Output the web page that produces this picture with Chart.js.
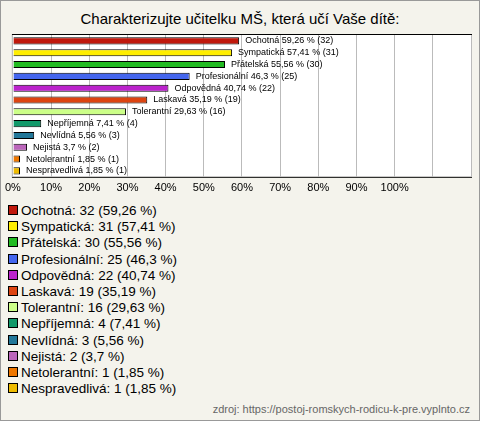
<!DOCTYPE html>
<html>
<head>
<meta charset="utf-8">
<script src="https://cdn.jsdelivr.net/npm/chart.js@4"></script>
<style>
    body { margin: 0; background: #fff; font-family: Arial, "Liberation Sans", sans-serif; }
    #box { position: absolute; left: 0; top: 0; width: 478px; height: 419px; background: #f4f3ec; border: 1px solid #999; }
    #title { position: absolute; top: 10px; left: 0; width: 480px; text-align: center; font-size: 15px; color: #000; }
    #wrap { position: absolute; left: 0; top: 0; width: 480px; height: 200px; }
    #legend { position: absolute; left: 8px; top: 203px; font-size: 13.5px; color: #000; }
    #legend div { height: 16.2px; line-height: 16px; white-space: nowrap; }
    #legend span { display: inline-block; width: 8px; height: 8px; border: 1px solid #000; margin-right: 3px; vertical-align: 0px; }
    #foot { position: absolute; right: 10px; top: 403px; font-size: 11px; color: #666; }
</style>
</head>
<body>
<div id="box"></div>
<div id="title">Charakterizujte učitelku MŠ, která učí Vaše dítě:</div>
<div id="wrap"><canvas id="chart"></canvas></div>
<div id="legend"></div>
<div id="foot">zdroj: https://postoj-romskych-rodicu-k-pre.vyplnto.cz</div>
<script>
// data
const categories = ["Ochotná", "Sympatická", "Přátelská", "Profesionální", "Odpovědná", "Laskavá", "Tolerantní", "Nepříjemná", "Nevlídná", "Nejistá", "Netolerantní", "Nespravedlivá"];
const counts = [32, 31, 30, 25, 22, 19, 16, 4, 3, 2, 1, 1];
const percents = [59.26, 57.41, 55.56, 46.3, 40.74, 35.19, 29.63, 7.41, 5.56, 3.7, 1.85, 1.85];
const colors = ["#c0180c", "#ffee00", "#22bb22", "#4466ee", "#bb22cc", "#dd4411", "#ccff88", "#11996a", "#227799", "#bb66bb", "#ee7700", "#eebb00"];

const fmt = v => String(v).replace(".", ",");

// legend
const legend = document.getElementById("legend");
categories.forEach((c, i) => {
    const d = document.createElement("div");
    d.innerHTML = '<span style="background:' + colors[i] + '"></span>' + c + ": " + counts[i] + " (" + fmt(percents[i]) + " %)";
    legend.appendChild(d);
});

// bar end labels
const barLabels = {
    id: "barLabels",
    afterDatasetsDraw(chart) {
        const ctx = chart.ctx;
        const meta = chart.getDatasetMeta(0);
        ctx.save();
        ctx.font = "9px Arial";
        ctx.fillStyle = "#000";
        ctx.textBaseline = "middle";
        meta.data.forEach((bar, i) => {
            ctx.fillText(categories[i] + " " + fmt(percents[i]) + " % (" + counts[i] + ")", bar.x + 6, bar.y);
        });
        ctx.restore();
    }
};

// white plot area with frame
const plotBg = {
    id: "plotBg",
    beforeDraw(chart) {
        const a = chart.chartArea;
        const ctx = chart.ctx;
        ctx.save();
        ctx.fillStyle = "#fff";
        ctx.fillRect(a.left, a.top, a.right - a.left, a.bottom - a.top);
        ctx.strokeStyle = "#000";
        ctx.lineWidth = 1;
        ctx.strokeRect(a.left - 0.5, a.top - 0.5, a.right - a.left + 1, a.bottom - a.top + 1);
        ctx.restore();
    }
};

new Chart(document.getElementById("chart"), {
    type: "bar",
    data: {
        labels: categories,
        datasets: [{
            data: percents,
            backgroundColor: colors,
            borderColor: "#000",
            borderWidth: 1,
            barPercentage: 0.6,
            categoryPercentage: 1
        }]
    },
    options: {
        indexAxis: "y",
        responsive: true,
        maintainAspectRatio: false,
        animation: false,
        layout: { padding: { left: 12, right: 9, top: 35, bottom: 0 } },
        plugins: { legend: { display: false }, tooltip: { enabled: false } },
        scales: {
            x: {
                min: 0,
                max: 120,
                ticks: {
                    stepSize: 10,
                    padding: 5,
                    color: "#000",
                    font: { size: 11, family: "Arial" },
                    callback: v => v <= 100 ? v + "%" : ""
                },
                grid: { color: "#bbb", drawTicks: false },
                border: { display: false }
            },
            y: {
                display: false
            }
        }
    },
    plugins: [plotBg, barLabels]
});
</script>
</body>
</html>
